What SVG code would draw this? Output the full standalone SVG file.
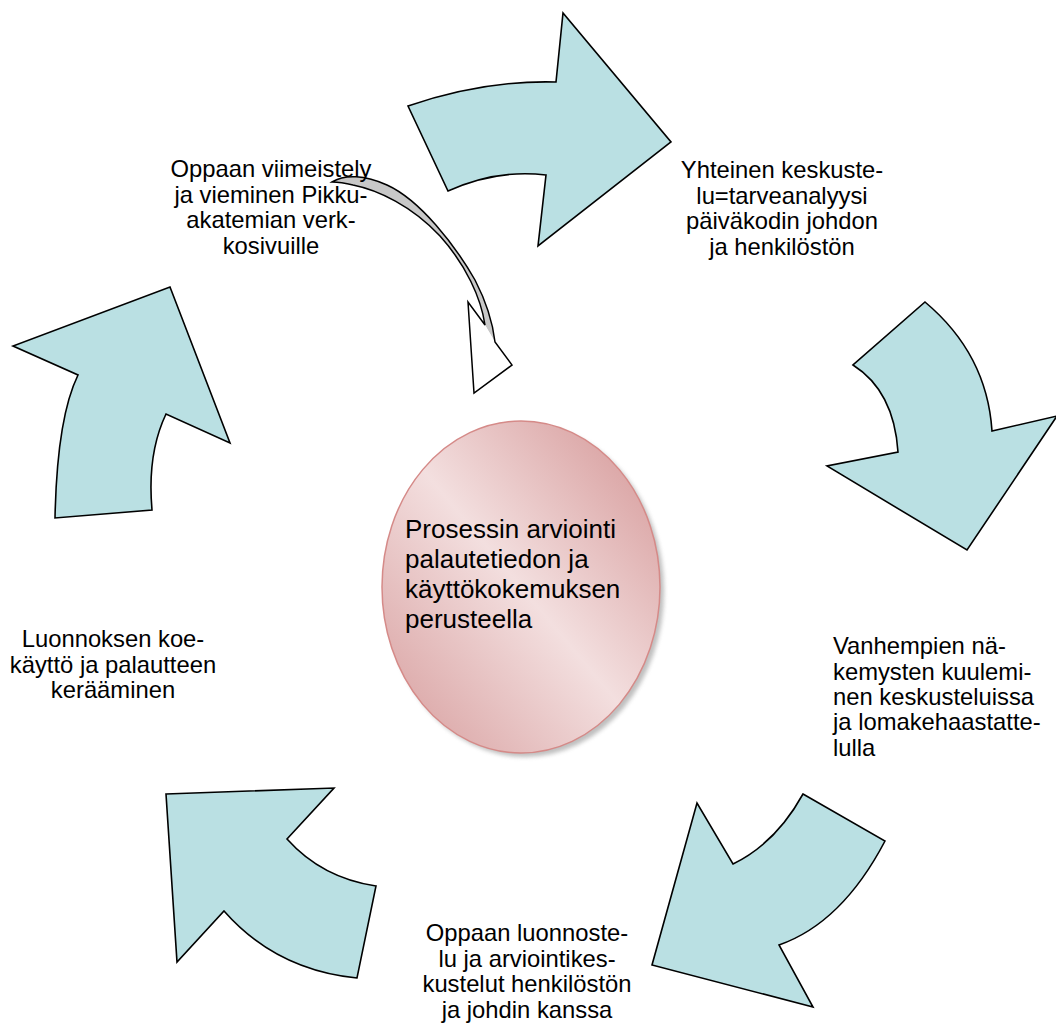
<svg xmlns="http://www.w3.org/2000/svg" width="1056" height="1025" viewBox="0 0 1056 1025">
<style>
  .arrow { fill: #bae0e3; stroke: #000; stroke-width: 1.6; stroke-linejoin: miter; }
  .lbl { font-family: "Liberation Sans", Arial, sans-serif; font-size: 23.8px; fill: #000; }
  .mid { text-anchor: middle; }
  .ctr { font-family: "Liberation Sans", Arial, sans-serif; font-size: 26px; fill: #000; }
</style>
<defs>
  <linearGradient id="pink" x1="1" y1="0" x2="0" y2="1">
    <stop offset="0" stop-color="#d39393"/>
    <stop offset="0.5" stop-color="#f3dfdf"/>
    <stop offset="1" stop-color="#d69b9b"/>
  </linearGradient>
  <filter id="blur" x="-10%" y="-10%" width="120%" height="120%">
    <feGaussianBlur stdDeviation="2"/>
  </filter>
</defs>
<rect width="1056" height="1025" fill="#fff"/>

<g id="connectors">
  <path class="arrow" d="M408,106 Q484,80 556,82 L563,13 L671,142 L538,246 L546,175 Q497,169 448,191 Z"/>
  <path class="arrow" d="M925,302 Q987,354 992,431 L1057,416 L967,550 L827,466 L898,452 Q894,391 853,365 Z"/>
  <path class="arrow" d="M803,794 L885,841 Q842,923 779,945 L813,1007 L652,965 L697,803 L733,864 Q776,843 803,794 Z"/>
  <path class="arrow" d="M166,794 L334,788 L287,839 Q322,878 376,886 L357,978 Q276,970 224,911 L177,962 Z"/>
  <path class="arrow" d="M170,287 L230,443 L166,414 Q147,454 152,510 L55,518 Q57,418 78,375 L13,346 Z"/>
  <g id="curved-arrow">
    <path d="M332,182 C345,174 365,175 387,185 C420,200 455,245 475,280 C488,305 493,325 495,342 L485,325 C481,298 466,265 440,236 C412,206 378,190 353,185 C345,183 338,182 332,182 Z" fill="#c8c8c8" stroke="none"/>
    <path d="M495,342 L512,365 L474,393 L468,302 L485,325 Z" fill="#fff" stroke="none"/>
    <path d="M332,182 C345,174 365,175 387,185 C420,200 455,245 475,280 C488,305 493,325 495,342 L512,365 L474,393 L468,302 L485,325 C481,298 466,265 440,236 C412,206 378,190 353,185 C345,183 338,182 332,182 Z" fill="none" stroke="#000" stroke-width="1.5" stroke-linejoin="miter"/>
  </g>
</g>

<g id="center">
  <ellipse cx="525" cy="591" rx="139" ry="166" fill="#8a8a8a" opacity="0.55" filter="url(#blur)"/>
  <ellipse cx="521" cy="587" rx="139" ry="166" fill="url(#pink)" stroke="#d58a88" stroke-width="1.5"/>
  <text class="ctr" x="405" y="538">Prosessin arviointi</text>
  <text class="ctr" x="405" y="568">palautetiedon ja</text>
  <text class="ctr" x="405" y="598">käyttökokemuksen</text>
  <text class="ctr" x="405" y="628">perusteella</text>
</g>

<g id="step1">
  <text class="lbl mid" x="782" y="178">Yhteinen keskuste-</text>
  <text class="lbl mid" x="782" y="204">lu=tarveanalyysi</text>
  <text class="lbl mid" x="782" y="229">päiväkodin johdon</text>
  <text class="lbl mid" x="782" y="255">ja henkilöstön</text>
</g>

<g id="step2">
  <text class="lbl" x="833" y="654">Vanhempien nä-</text>
  <text class="lbl" x="833" y="680">kemysten kuulemi-</text>
  <text class="lbl" x="833" y="705">nen keskusteluissa</text>
  <text class="lbl" x="833" y="730">ja lomakehaastatte-</text>
  <text class="lbl" x="833" y="756">lulla</text>
</g>

<g id="step3">
  <text class="lbl mid" x="527" y="941">Oppaan luonnoste-</text>
  <text class="lbl mid" x="527" y="967">lu ja arviointikes-</text>
  <text class="lbl mid" x="527" y="992">kustelut henkilöstön</text>
  <text class="lbl mid" x="527" y="1018">ja johdin kanssa</text>
</g>

<g id="step4">
  <text class="lbl mid" x="113" y="647">Luonnoksen koe-</text>
  <text class="lbl mid" x="113" y="673">käyttö ja palautteen</text>
  <text class="lbl mid" x="113" y="698">kerääminen</text>
</g>

<g id="step5">
  <text class="lbl mid" x="271" y="177">Oppaan viimeistely</text>
  <text class="lbl mid" x="271" y="203">ja vieminen Pikku-</text>
  <text class="lbl mid" x="271" y="228">akatemian verk-</text>
  <text class="lbl mid" x="271" y="254">kosivuille</text>
</g>
</svg>
